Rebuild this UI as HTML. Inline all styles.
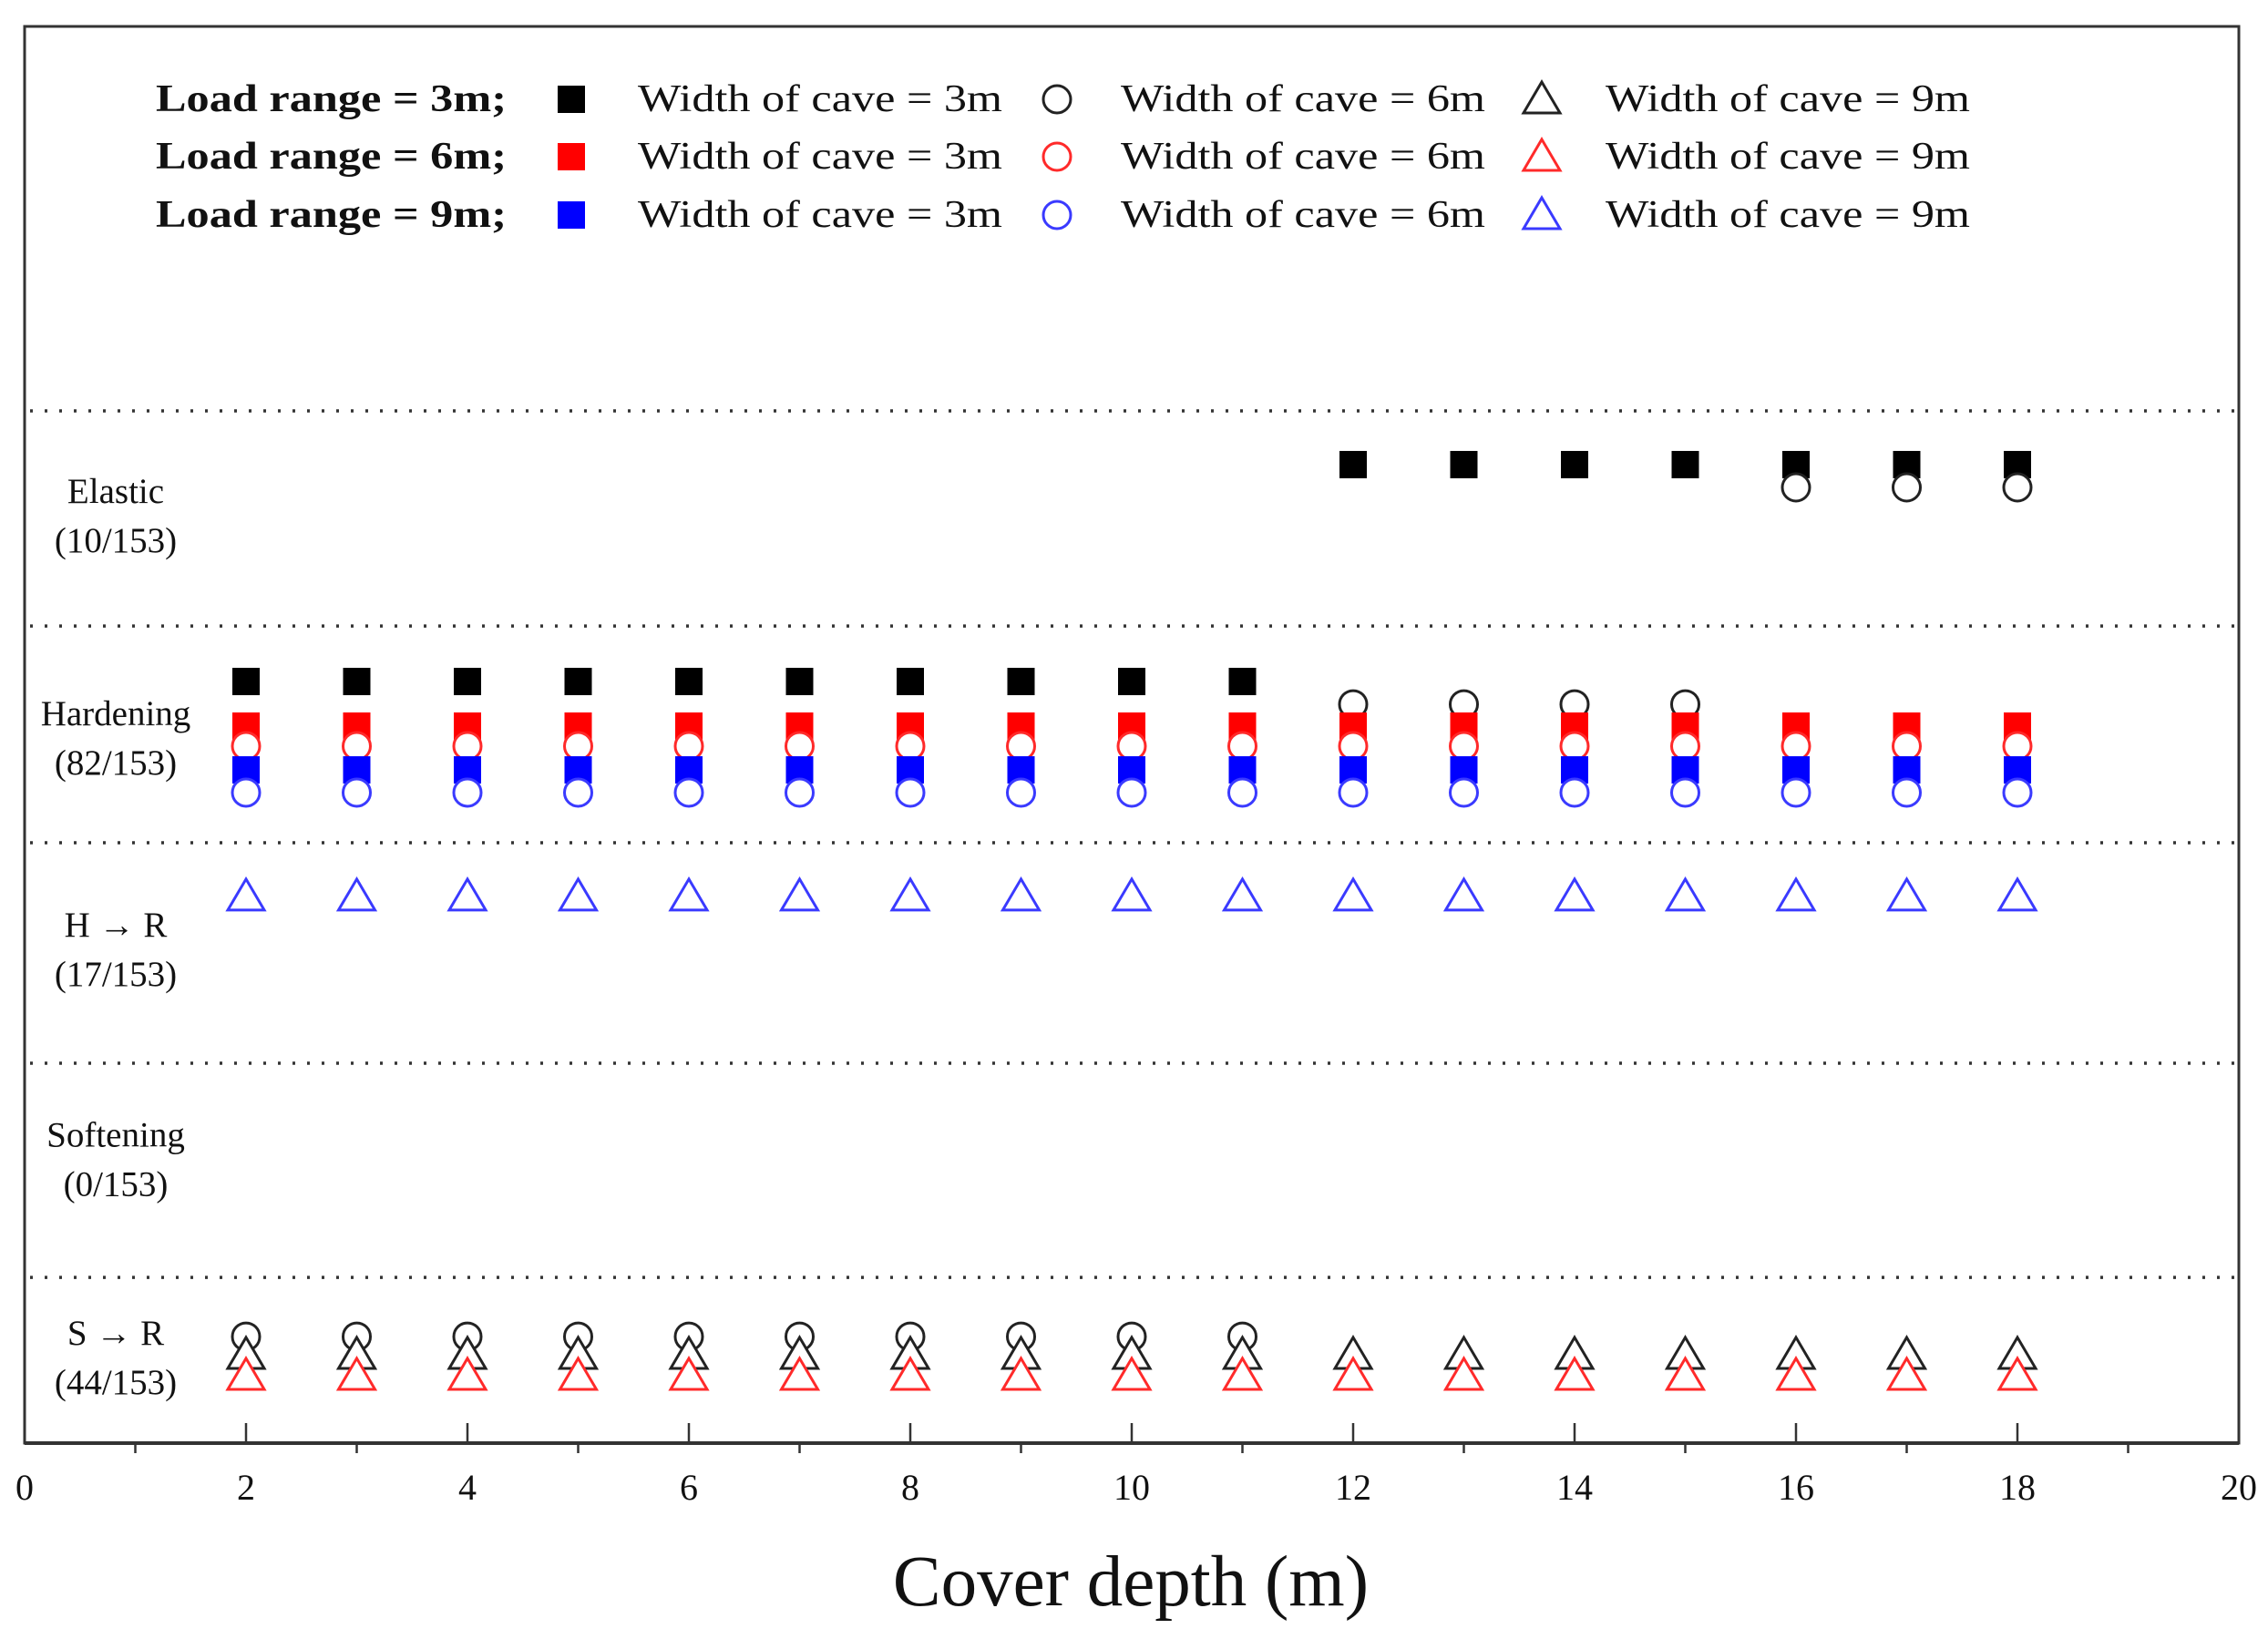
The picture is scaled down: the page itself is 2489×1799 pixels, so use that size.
<!DOCTYPE html>
<html><head><meta charset="utf-8"><style>
html,body{margin:0;padding:0;background:#fff;}
svg{display:block;font-family:"Liberation Serif",serif;}
</style></head><body>
<svg id="chart" width="2489" height="1799" viewBox="0 0 2489 1799" xmlns="http://www.w3.org/2000/svg">
<rect x="27" y="29" width="2430" height="1555" fill="#fff" stroke="#333" stroke-width="3"/>
<g id="grid"></g>
<g id="ticks"></g>
<g id="cats"></g>
<g id="marks"></g>
<g id="legend"></g>
<text x="1241" y="1762" font-size="79" text-anchor="middle" fill="#111">Cover depth (m)</text>
</svg>
<script>
// data
const xTicks = [0,2,4,6,8,10,12,14,16,18,20];
const separators = [72.86, 57.68, 42.38, 26.82, 11.70];
const categoryNames = ["Elastic","Hardening","H \u2192 R","Softening","S \u2192 R"];
const categoryCounts = ["(10/153)","(82/153)","(17/153)","(0/153)","(44/153)"];
const categoryLevels = [65.47, 49.77, 34.85, 20.03, 6.05];
const depthsAll = [2,3,4,5,6,7,8,9,10,11,12,13,14,15,16,17,18];
// Load range 3m
const lr3w3X = [2,3,4,5,6,7,8,9,10,11,12,13,14,15,16,17,18];
const lr3w3Y = [53.76,53.76,53.76,53.76,53.76,53.76,53.76,53.76,53.76,53.76,69.07,69.07,69.07,69.07,69.07,69.07,69.07];
const lr3w6X = [2,3,4,5,6,7,8,9,10,11,12,13,14,15,16,17,18];
const lr3w6Y = [7.52,7.52,7.52,7.52,7.52,7.52,7.52,7.52,7.52,7.52,52.15,52.15,52.15,52.15,67.46,67.46,67.46];
const lr3w9Y = [6.24,6.24,6.24,6.24,6.24,6.24,6.24,6.24,6.24,6.24,6.24,6.24,6.24,6.24,6.24,6.24,6.24];
// Load range 6m
const lr6w3Y = [50.61,50.61,50.61,50.61,50.61,50.61,50.61,50.61,50.61,50.61,50.61,50.61,50.61,50.61,50.61,50.61,50.61];
const lr6w6Y = [49.20,49.20,49.20,49.20,49.20,49.20,49.20,49.20,49.20,49.20,49.20,49.20,49.20,49.20,49.20,49.20,49.20];
const lr6w9Y = [4.76,4.76,4.76,4.76,4.76,4.76,4.76,4.76,4.76,4.76,4.76,4.76,4.76,4.76,4.76,4.76,4.76];
// Load range 9m
const lr9w3Y = [47.52,47.52,47.52,47.52,47.52,47.52,47.52,47.52,47.52,47.52,47.52,47.52,47.52,47.52,47.52,47.52,47.52];
const lr9w6Y = [45.92,45.92,45.92,45.92,45.92,45.92,45.92,45.92,45.92,45.92,45.92,45.92,45.92,45.92,45.92,45.92,45.92];
const lr9w9Y = [38.59,38.59,38.59,38.59,38.59,38.59,38.59,38.59,38.59,38.59,38.59,38.59,38.59,38.59,38.59,38.59,38.59];

const NS = "http://www.w3.org/2000/svg";
const X0 = 27, X1 = 2457, Y0 = 1584, Y1 = 29;
function xS(v){ return X0 + (v/20)*(X1-X0); }
function yS(v){ return Y0 - (v/100)*(Y0-Y1); }
function mk(tag, attrs, parent){ const e=document.createElementNS(NS,tag); for(const k in attrs) e.setAttribute(k,attrs[k]); parent.appendChild(e); return e; }

const grid = document.getElementById('grid');
separators.forEach((s,i)=>{
  const l = mk('line',{x1:X0+6,x2:X1-4,y1:yS(s),y2:yS(s),stroke:'#333','stroke-width':3.5,'stroke-dasharray':'3 13'},grid);
  
  
});

const ticks = document.getElementById('ticks');
mk('line',{x1:X0,x2:X1,y1:Y0,y2:Y0,stroke:'#333','stroke-width':4},ticks);
for(let v=1; v<20; v+=2){
  const t = mk('line',{x1:xS(v),x2:xS(v),y1:Y0,y2:Y0+11,stroke:'#333','stroke-width':2.5},ticks);
  
  
}
xTicks.forEach(v=>{
  if(v>0 && v<20){
    const t = mk('line',{x1:xS(v),x2:xS(v),y1:Y0,y2:Y0-22,stroke:'#333','stroke-width':2.5},ticks);
    
    
  }
  const tx = mk('text',{x:xS(v),y:1646,'font-size':40,'text-anchor':'middle',fill:'#111'},ticks);
  tx.textContent = v;
  
  
});

const cats = document.getElementById('cats');
categoryNames.forEach((n,i)=>{
  const y = yS(categoryLevels[i]);
  const a = mk('text',{x:127,y:y-14,'font-size':39,'text-anchor':'middle',fill:'#111'},cats);
  a.textContent = n;
  
  
  const b = mk('text',{x:127,y:y+40,'font-size':39,'text-anchor':'middle',fill:'#111'},cats);
  b.textContent = categoryCounts[i];
  
  
});

const BLACK='#000', RED='#ff0000', BLUE='#0000ff', RED_E='#ff2a2a', BLUE_E='#3a3aff';
function drawShape(shape, cx, cy, color, parent){
  let e;
  if(shape==='sq'){
    e = mk('rect',{x:cx-15,y:cy-15,width:30,height:30,fill:color},parent);
  } else if(shape==='ci'){
    e = mk('circle',{cx:cx,cy:cy,r:15,fill:'#fff',stroke:color,'stroke-width':3},parent);
  } else {
    e = mk('polygon',{points:`${cx},${cy-19} ${cx+20},${cy+15} ${cx-20},${cy+15}`,fill:'#fff',stroke:color,'stroke-width':3},parent);
  }
  return e;
}
const series = [
  {name:'lr3-w3', shape:'sq', color:BLACK, x:lr3w3X, y:lr3w3Y},
  {name:'lr3-w6', shape:'ci', color:'#222', x:lr3w6X, y:lr3w6Y},
  {name:'lr3-w9', shape:'tr', color:'#222', x:depthsAll, y:lr3w9Y},
  {name:'lr6-w3', shape:'sq', color:RED, x:depthsAll, y:lr6w3Y},
  {name:'lr6-w6', shape:'ci', color:RED_E, x:depthsAll, y:lr6w6Y},
  {name:'lr6-w9', shape:'tr', color:RED_E, x:depthsAll, y:lr6w9Y},
  {name:'lr9-w3', shape:'sq', color:BLUE, x:depthsAll, y:lr9w3Y},
  {name:'lr9-w6', shape:'ci', color:BLUE_E, x:depthsAll, y:lr9w6Y},
  {name:'lr9-w9', shape:'tr', color:BLUE_E, x:depthsAll, y:lr9w9Y}
];
const pts = [];
series.forEach(s=>{ s.x.forEach((xv,i)=>pts.push({s:s, x:xv, y:s.y[i]})); });
pts.sort((a,b)=>b.y-a.y);
const marks = document.getElementById('marks');
pts.forEach(p=>{
  const e = drawShape(p.s.shape, xS(p.x), yS(p.y), p.s.color, marks);
  
  
});

const legend = document.getElementById('legend');
const legRows = [["Load range = 3m;", BLACK, '#222', '#222'],["Load range = 6m;", RED, RED_E, RED_E],["Load range = 9m;", BLUE, BLUE_E, BLUE_E]];
const legY = [109,172,236];
legRows.forEach((r,i)=>{
  const y = legY[i];
  const t = mk('text',{x:171,y:y+13,'font-size':42,'font-weight':'bold',fill:'#111',textLength:385,lengthAdjust:'spacingAndGlyphs'},legend);
  t.textContent = r[0];
  
  
  const s1 = drawShape('sq',627,y,r[1],legend);
  
  
  const s2 = drawShape('ci',1160,y,r[2],legend);
  
  
  const s3 = drawShape('tr',1692,y,r[3],legend);
  
  
  [[700,"Width of cave = 3m"],[1230,"Width of cave = 6m"],[1762,"Width of cave = 9m"]].forEach(w=>{
    const tt = mk('text',{x:w[0],y:y+13,'font-size':42,fill:'#111',textLength:400,lengthAdjust:'spacingAndGlyphs'},legend);
    tt.textContent = w[1];
    
    
  });
});
</script>
</body></html>
